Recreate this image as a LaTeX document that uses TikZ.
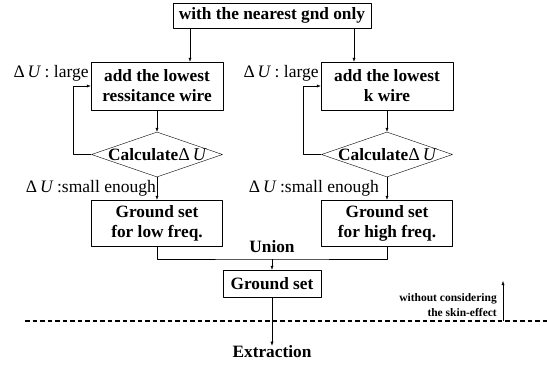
\documentclass[tikz,border=0pt]{standalone}
\usepackage{fontspec}
\setmainfont{Liberation Serif}
\usetikzlibrary{shapes.geometric,arrows.meta}

\newcommand{\dU}{{\mdseries\upshape Δ\,\itshape U}}

\begin{document}
\begin{tikzpicture}[x=1pt, y=-1pt, line join=round,
  box/.style={draw, align=center, inner sep=0pt, font=\fontsize{17.3}{20}\selectfont\bfseries},
  decide/.style={draw, diamond, inner sep=0pt, minimum width=131pt, minimum height=45pt,
                 font=\fontsize{17.3}{20}\selectfont\bfseries},
  lbl/.style={inner sep=0pt, font=\fontsize{17.5}{18}\selectfont},
  arr/.style={-{Latex[length=4pt,width=3pt]}}]
  \useasboundingbox (0,0) rectangle (547,367); % same frame as reference

  % --- start ---
  \node[box, minimum width=198pt, minimum height=25pt] (start) at (272,15.5) {with the nearest gnd only};

  % --- the two branches ---
  \node[box, minimum width=132pt, minimum height=48pt] (laddwire) at (157,86) {add the lowest\\ressitance wire};
  \node[box, minimum width=132pt, minimum height=48pt] (raddwire) at (387,86) {add the lowest\\k wire};
  \node[decide] (lcalc) at (157,154.5) {\makebox[0pt]{Calculate{\fontsize{18}{18}\selectfont\dU}}};
  \node[decide] (rcalc) at (387,154.5) {\makebox[0pt]{Calculate{\fontsize{18}{18}\selectfont\dU}}};
  \node[box, minimum width=131pt, minimum height=46pt] (lgset) at (157,223) {Ground set\\for low freq.};
  \node[box, minimum width=131pt, minimum height=46pt] (rgset) at (387,223) {Ground set\\for high freq.};

  \foreach \s/\dx in {l/-82, r/82}{
    \draw[arr] ([xshift=\dx]start.south) -- ([xshift=\dx]start.south |- \s addwire.north);
    \draw[arr] (\s addwire) -- (\s calc);
    \draw[arr] (\s calc.west) -- ++(-18,0) |- (\s addwire.west);
    \draw[arr] (\s calc) -- (\s gset);
    \node[lbl, anchor=east] (\s large) at ([yshift=13pt, xshift=-2pt]\s addwire.west) {\dU\ : large};
  }
  \node[lbl, anchor=east] (lsmall) at ([yshift=-11pt, xshift=-1pt]lcalc.south) {\dU\ :small enough};
  \node[lbl, anchor=east] (rsmall) at ([yshift=-11pt, xshift=-8pt]rcalc.south) {\dU\ :small enough};

  % --- union ---
  \coordinate (unionpt) at (272,259);
  \draw (lgset.south) |- (unionpt) -| (rgset.south);
  \node[box, draw=none] (union) at (272,247) {Union};
  \node[box, minimum width=98pt, minimum height=27pt] (gset) at (272,283.5) {Ground set};
  \draw[arr] (unionpt) -- (gset);

  % --- extraction ---
  \node[box, draw=none] (extract) at (272,352) {Extraction};
  \draw[arr] (gset) -- (extract);

  % --- skin effect boundary ---
  \draw[line width=1.8pt, dash pattern=on 4.5pt off 3pt] (25,321) -- (547,321);
  \coordinate (skinlow) at (503,321);
  \coordinate (skinup) at (503,281);
  \draw[arr] (skinlow) -- (skinup);
  \node[box, draw=none, anchor=east, align=right, font=\fontsize{11.5}{14.5}\selectfont\bfseries]
    (skin) at (497,305) {without considering\\the skin-effect};
\end{tikzpicture}
\end{document}
